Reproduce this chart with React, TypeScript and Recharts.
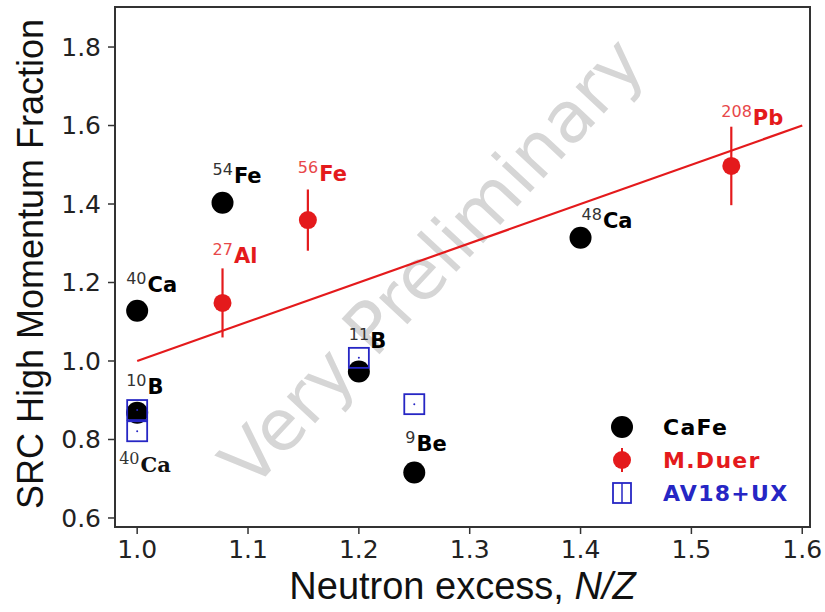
import React from 'react';
import {
  ScatterChart,
  Scatter,
  XAxis,
  YAxis,
  ErrorBar,
  ReferenceLine,
  ReferenceArea,
  Customized,
  Label,
} from 'recharts';

// ---------- data ----------
const cafeMass = ['40', '54', '10', '11', '9', '48'];
const cafeSymbol = ['Ca', 'Fe', 'B', 'B', 'Be', 'Ca'];
const cafeX = [1.0, 1.077, 1.0, 1.2, 1.25, 1.4];
const cafeY = [1.128, 1.403, 0.868, 0.973, 0.716, 1.314];

const duerMass = ['27', '56', '208'];
const duerSymbol = ['Al', 'Fe', 'Pb'];
const duerX = [1.077, 1.154, 1.536];
const duerY = [1.148, 1.359, 1.497];
const duerErr = [0.088, 0.078, 0.1];

const avMass = ['10', '40', '11', '9'];
const avSymbol = ['B', 'Ca', 'B', 'Be'];
const avX = [1.0, 1.0, 1.2, 1.25];
const avY = [0.875, 0.821, 1.008, 0.89];

const fitX = [1.0, 1.6];
const fitY = [1.0, 1.6];

const xTicks = [1.0, 1.1, 1.2, 1.3, 1.4, 1.5, 1.6];
const yTicks = [0.6, 0.8, 1.0, 1.2, 1.4, 1.6, 1.8];
const xDomain = [0.98, 1.607];
const yDomain = [0.577, 1.902];

const legendNames = ['CaFe', 'M.Duer', 'AV18+UX'];

// ---------- styling (label placement relative to marker, px) ----------
const cafeLabelOffset: (number[] | null)[] = [
  [-11, -19],
  [-10, -20],
  [-11, -19],
  [-10, -24],
  [-9, -21],
  [1, -10],
];
const duerLabelOffset: (number[] | null)[] = [
  [-10, -40],
  [-10, -39],
  [-10, -41],
];
const avLabelOffset: (number[] | null)[] = [null, [-18, 41], null, null];

const BLACK = '#000000';
const RED = '#e41a1c';
const BLUE = '#2626c4';
const AXIS = '#333333';

const cafeData = cafeX.map((x, i) => ({ x, y: cafeY[i], mass: cafeMass[i], sym: cafeSymbol[i], i }));
const duerData = duerX.map((x, i) => ({ x, y: duerY[i], err: duerErr[i], mass: duerMass[i], sym: duerSymbol[i], i }));
const avData = avX.map((x, i) => ({ x, y: avY[i], mass: avMass[i], sym: avSymbol[i], i }));

function IsoLabel({ x, y, mass, sym, color, supColor, serif }: any) {
  const fam = serif ? '"DejaVu Serif", serif' : '"DejaVu Sans", sans-serif';
  return (
    <text x={x} y={y} fontFamily={fam}>
      <tspan fontSize={16} fill={supColor} dy={-8}>
        {mass}
      </tspan>
      <tspan fontSize={21} fontWeight="bold" fill={color} dy={8} dx={1}>
        {sym}
      </tspan>
    </text>
  );
}

const cafeShape = (props: any) => {
  const { cx, cy, payload } = props;
  const off = cafeLabelOffset[payload.i];
  return (
    <g>
      <circle cx={cx} cy={cy} r={11} fill={BLACK} />
      {off && (
        <IsoLabel x={cx + off[0]} y={cy + off[1]} mass={payload.mass} sym={payload.sym} color={BLACK} supColor="#333" />
      )}
    </g>
  );
};

const duerShape = (props: any) => {
  const { cx, cy, payload } = props;
  const off = duerLabelOffset[payload.i];
  return (
    <g>
      <circle cx={cx} cy={cy} r={9} fill={RED} />
      {off && (
        <IsoLabel x={cx + off[0]} y={cy + off[1]} mass={payload.mass} sym={payload.sym} color={RED} supColor="#e8474a" />
      )}
    </g>
  );
};

const avShape = (props: any) => {
  const { cx, cy, payload } = props;
  const off = avLabelOffset[payload.i];
  return (
    <g>
      <rect x={cx - 10} y={cy - 10} width={20} height={20} fill="none" stroke={BLUE} strokeWidth={1.8} />
      <circle cx={cx} cy={cy} r={1} fill={BLUE} />
      {off && (
        <IsoLabel x={cx + off[0]} y={cy + off[1]} mass={payload.mass} sym={payload.sym} color="#111" supColor="#333" serif />
      )}
    </g>
  );
};

const Watermark = () => (
  <text
    x={432}
    y={262}
    transform="rotate(-47 432 262)"
    textAnchor="middle"
    dominantBaseline="central"
    fontFamily='"DejaVu Sans", sans-serif'
    fontSize={71}
    fill="#d6d6d6"
  >
    Very Preliminary
  </text>
);

const LegendBox = () => {
  const ys = [427, 460, 493];
  const colors = [BLACK, RED, BLUE];
  const mx = 622;
  const tx = 663;
  return (
    <g>
      <circle cx={mx} cy={ys[0]} r={11} fill={BLACK} />
      <line x1={mx} x2={mx} y1={ys[1] - 12} y2={ys[1] + 12} stroke={RED} strokeWidth={2} />
      <circle cx={mx} cy={ys[1]} r={9} fill={RED} />
      <rect x={mx - 9} y={ys[2] - 10} width={18} height={20} fill="none" stroke={BLUE} strokeWidth={1.8} />
      <line x1={mx} x2={mx} y1={ys[2] - 10} y2={ys[2] + 10} stroke={BLUE} strokeWidth={1.5} />
      {legendNames.map((n, i) => (
        <text
          key={n}
          x={tx}
          y={ys[i]}
          dominantBaseline="central"
          fontFamily='"DejaVu Sans", sans-serif'
          fontWeight="bold"
          fontSize={22}
          letterSpacing={1.3}
          fill={colors[i]}
        >
          {n}
        </text>
      ))}
    </g>
  );
};

const XTitle = (props: any) => {
  const { viewBox } = props;
  const cx = viewBox.x + viewBox.width / 2;
  return (
    <text
      x={cx}
      y={viewBox.y + 72}
      textAnchor="middle"
      fontFamily='"Liberation Sans", Arial, sans-serif'
      fontSize={38}
      fill="#111"
    >
      Neutron excess, <tspan fontStyle="italic">N/Z</tspan>
    </text>
  );
};

const YTitle = (props: any) => {
  const { viewBox } = props;
  const cy = viewBox.y + viewBox.height / 2 - 3;
  const bx = 43;
  return (
    <text
      x={bx}
      y={cy}
      transform={`rotate(-90 ${bx} ${cy})`}
      textAnchor="middle"
      fontFamily='"Liberation Sans", Arial, sans-serif'
      fontSize={36}
      fill="#111"
    >
      SRC High Momentum Fraction
    </text>
  );
};

const tickStyle = { fontFamily: '"DejaVu Sans", sans-serif', fontSize: 25, fill: '#222' };

export default function App() {
  return (
    <div style={{ position: 'absolute', left: 0, top: 0, background: '#fff' }}>
      <ScatterChart width={825} height={612} margin={{ top: 7, right: 15, bottom: 0, left: 0 }}>
        <XAxis
          dataKey="x"
          type="number"
          domain={xDomain}
          ticks={xTicks}
          allowDataOverflow
          height={85}
          tick={tickStyle}
          tickFormatter={(v: number) => v.toFixed(1)}
          tickSize={7}
          tickMargin={6}
          axisLine={{ stroke: AXIS, strokeWidth: 2 }}
          tickLine={{ stroke: AXIS, strokeWidth: 1.5 }}
        >
          <Label content={<XTitle />} />
        </XAxis>
        <YAxis
          dataKey="y"
          type="number"
          domain={yDomain}
          ticks={yTicks}
          allowDataOverflow
          width={115}
          tick={tickStyle}
          tickFormatter={(v: number) => v.toFixed(1)}
          tickSize={7}
          tickMargin={7}
          axisLine={{ stroke: AXIS, strokeWidth: 2 }}
          tickLine={{ stroke: AXIS, strokeWidth: 1.5 }}
        >
          <Label content={<YTitle />} />
        </YAxis>
        <ReferenceArea
          x1={xDomain[0]}
          x2={xDomain[1]}
          y1={yDomain[0]}
          y2={yDomain[1]}
          fill="none"
          fillOpacity={0}
          stroke={AXIS}
          strokeWidth={2}
          ifOverflow="visible"
        />
        <Customized component={<Watermark />} />
        <ReferenceLine
          segment={[
            { x: fitX[0], y: fitY[0] },
            { x: fitX[1], y: fitY[1] },
          ]}
          stroke={RED}
          strokeWidth={2.2}
          ifOverflow="visible"
        />
        <Scatter data={cafeData} shape={cafeShape} isAnimationActive={false} />
        <Scatter data={duerData} shape={duerShape} isAnimationActive={false}>
          <ErrorBar dataKey="err" direction="y" width={0} stroke={RED} strokeWidth={2.2} />
        </Scatter>
        <Scatter data={avData} shape={avShape} isAnimationActive={false} />
        <Customized component={<LegendBox />} />
      </ScatterChart>
    </div>
  );
}
